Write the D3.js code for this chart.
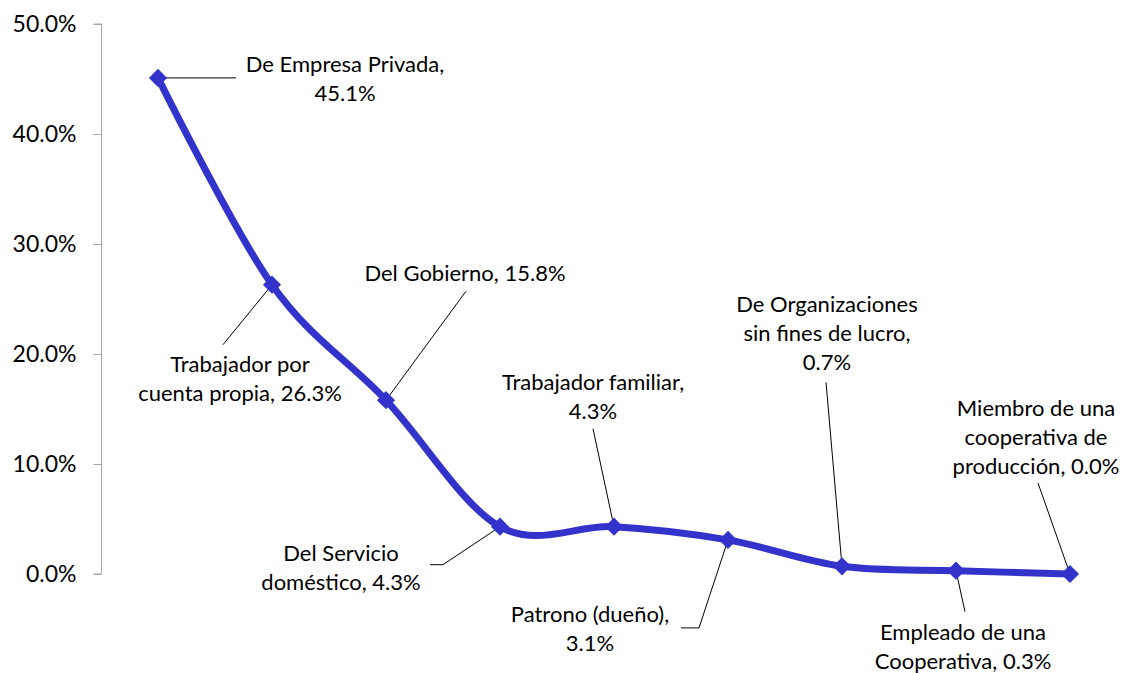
<!DOCTYPE html>
<html>
<head>
<meta charset="utf-8">
<script src="https://cdn.jsdelivr.net/npm/d3@7"></script>
<style>
  body { margin: 0; background: #fff; }
  svg { display: block; font-family: Lato, "Open Sans", sans-serif; }
</style>
</head>
<body>
<div id="chart"></div>
<script>
// Datos
const categories = [
  "De Empresa Privada",
  "Trabajador por cuenta propia",
  "Del Gobierno",
  "Del Servicio doméstico",
  "Trabajador familiar",
  "Patrono (dueño)",
  "De Organizaciones sin fines de lucro",
  "Empleado de una Cooperativa",
  "Miembro de una cooperativa de producción"
];
const values = [0.451, 0.263, 0.158, 0.043, 0.043, 0.031, 0.007, 0.003, 0.000];

// Etiquetas (líneas de texto de cada etiqueta)
const labelLines = [
  ["De Empresa Privada,", "45.1%"],
  ["Trabajador por", "cuenta propia, 26.3%"],
  ["Del Gobierno, 15.8%"],
  ["Del Servicio", "doméstico, 4.3%"],
  ["Trabajador familiar,", "4.3%"],
  ["Patrono (dueño),", "3.1%"],
  ["De Organizaciones", "sin fines de lucro,", "0.7%"],
  ["Empleado de una", "Cooperativa, 0.3%"],
  ["Miembro de una", "cooperativa de", "producción, 0.0%"]
];
const yTicks = [0, 0.1, 0.2, 0.3, 0.4, 0.5];

// Posición de las etiquetas relativa a cada punto (px)
const labelLayout = [
  { tx: 187, ty: -14, leader: [[78, 0]] },
  { tx: -32, ty: 80, leader: [[-49, 60]] },
  { tx: 79, ty: -127, leader: [[80, -109]] },
  { tx: -159, ty: 27, leader: [[-57, 38], [-70, 38]] },
  { tx: -21, ty: -144, leader: [[-21, -98]] },
  { tx: -138, ty: 74, leader: [[-29, 88], [-47, 88]] },
  { tx: -15, ty: -262, leader: [[-16, -184]] },
  { tx: 7, ty: 62, leader: [[9, 41]] },
  { tx: -34, ty: -166, leader: [[-32, -91]] }
];

const width = 1125, height = 673;
const lineColor = "#3333cc";
const lineHeight = 29;

const svg = d3.select("#chart").append("svg")
  .attr("width", width)
  .attr("height", height);

const x = d3.scalePoint()
  .domain(categories)
  .range([158, 1070]);

const y = d3.scaleLinear()
  .domain([0, 0.5])
  .range([574, 24]);

// Eje Y
const yAxis = svg.append("g")
  .attr("transform", "translate(101.5,0)")
  .call(d3.axisLeft(y).tickValues(yTicks).tickFormat(d3.format(".1%")).tickSize(8).tickPadding(17));
yAxis.select(".domain").attr("stroke", "#a6a6a6").attr("d", `M-8,${y(0.5)}H0V${y(0)}H-8`);
yAxis.selectAll(".tick line").attr("stroke", "#a6a6a6");
yAxis.selectAll(".tick text")
  .attr("fill", "#000")
  .style("font-size", "23px")
  .style("font-family", "Lato, sans-serif");

const data = categories.map((c, i) => ({ cat: c, value: values[i], lines: labelLines[i], layout: labelLayout[i] }));

// Líneas guía de las etiquetas
svg.append("g").selectAll("path")
  .data(data)
  .enter()
  .append("path")
  .attr("fill", "none")
  .attr("stroke", "#000")
  .attr("stroke-width", 1)
  .attr("d", d => {
    const px = x(d.cat), py = y(d.value);
    const pts = [[px, py]].concat(d.layout.leader.map(p => [px + p[0], py + p[1]]));
    return d3.line()(pts);
  });

// Línea suavizada
const line = d3.line()
  .x(d => x(d.cat))
  .y(d => y(d.value))
  .curve(d3.curveCardinal.tension(0));

svg.append("path")
  .datum(data)
  .attr("fill", "none")
  .attr("stroke", lineColor)
  .attr("stroke-width", 7)
  .attr("stroke-linejoin", "round")
  .attr("d", line);

// Marcadores (rombos)
svg.append("g").selectAll("path")
  .data(data)
  .enter()
  .append("path")
  .attr("d", d3.symbol().type(d3.symbolSquare).size(165))
  .attr("transform", d => `translate(${x(d.cat)},${y(d.value)}) rotate(45)`)
  .attr("fill", lineColor);

// Etiquetas de datos
const labels = svg.append("g").selectAll("text")
  .data(data)
  .enter()
  .append("text")
  .attr("text-anchor", "middle")
  .style("font-size", "22px")
  .attr("fill", "#000");

labels.each(function (d) {
  const t = d3.select(this);
  const cx = x(d.cat) + d.layout.tx;
  const cy = y(d.value) + d.layout.ty;
  d.lines.forEach((s, i) => {
    t.append("tspan")
      .attr("x", cx)
      .attr("y", cy + i * lineHeight)
      .attr("dy", "0.35em")
      .text(s);
  });
});
</script>
</body>
</html>
